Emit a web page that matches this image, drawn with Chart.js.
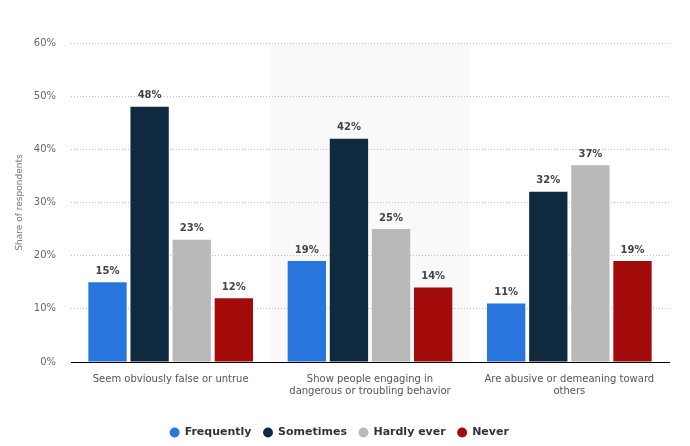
<!DOCTYPE html>
<html><head><meta charset="utf-8">
<script src="https://cdn.jsdelivr.net/npm/chart.js@4/dist/chart.umd.min.js"></script>
<style>html,body{margin:0;padding:0;background:#fff}#wrap{width:690px;height:446px}</style>
</head><body><div id="wrap"><canvas id="c" width="690" height="446"></canvas></div>
<script>
const categories = [["Seem obviously false or untrue"],["Show people engaging in","dangerous or troubling behavior"],["Are abusive or demeaning toward","others"]];
const seriesNames = ["Frequently","Sometimes","Hardly ever","Never"];
const frequently = [15,19,11];
const sometimes = [48,42,32];
const hardlyEver = [23,25,37];
const never = [12,14,19];
const colors = ["#2876dd","#0f2a3f","#b9b9b9","#a30b0b"];
const yTicks = [0,10,20,30,40,50,60];

const bandPlugin = {
  id:'band',
  beforeDraw(chart){
    const {ctx, chartArea, scales:{x}} = chart;
    const w = (x.getPixelForValue(1)-x.getPixelForValue(0));
    const cx = x.getPixelForValue(1);
    ctx.save();ctx.fillStyle='#f9f9f9';
    ctx.fillRect(cx-w/2, chartArea.top, w, chartArea.bottom-chartArea.top);
    ctx.restore();
  }
};
const labelPlugin = {
  id:'vals',
  afterDatasetsDraw(chart){
    const ctx = chart.ctx;
    ctx.save();
    ctx.font='bold 10px "DejaVu Sans"';ctx.fillStyle='#444';ctx.textAlign='center';ctx.textBaseline='bottom';
    chart.data.datasets.forEach((ds,i)=>{
      chart.getDatasetMeta(i).data.forEach((bar,j)=>{
        ctx.fillText(ds.data[j]+'%', bar.x, bar.y-6);
      });
    });
    ctx.restore();
  }
};
const data = [frequently,sometimes,hardlyEver,never];
new Chart(document.getElementById('c'),{
  type:'bar',
  data:{labels:categories,datasets:seriesNames.map((n,i)=>({label:n,data:data[i],backgroundColor:colors[i],categoryPercentage:0.845,barPercentage:0.91}))},
  options:{
    responsive:false,animation:false,
    layout:{padding:{left:10,right:21,top:43,bottom:-2}},
    plugins:{
      legend:{position:'bottom',labels:{usePointStyle:true,pointStyle:'circle',boxWidth:9,boxHeight:7,padding:12,color:'#333',font:{family:'DejaVu Sans',size:11,weight:'bold'}}},
      tooltip:{enabled:false}
    },
    scales:{
      x:{grid:{display:false},border:{color:'#000',width:1},ticks:{color:'#555',font:{family:'DejaVu Sans',size:10},maxRotation:0,padding:3},
         afterFit(s){s.height=53;}},
      y:{min:0,max:60,afterBuildTicks(s){s.ticks=yTicks.map(v=>({value:v}));},
         afterFit(s){s.width=61;},
         grid:{color:'#bfbfbf',lineWidth:1,drawTicks:false},border:{display:false,dash:[1,2]},
         ticks:{color:'#666',font:{family:'DejaVu Sans',size:10},padding:15,callback:v=>v+'%'},
         title:{display:true,text:'Share of respondents',color:'#777',font:{family:'DejaVu Sans',size:9},padding:4}}
    }
  },
  plugins:[bandPlugin,labelPlugin]
});
</script></body></html>
